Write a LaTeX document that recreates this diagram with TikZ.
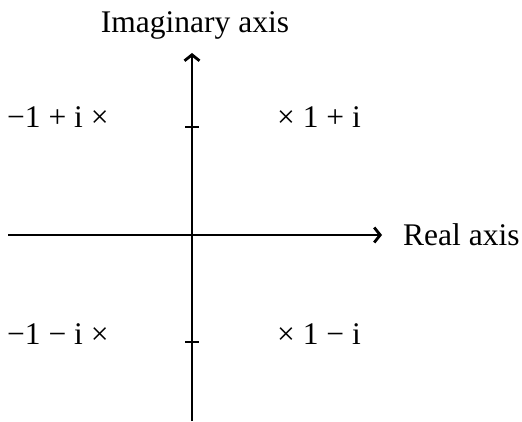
\documentclass[tikz,border=0pt]{standalone}
\usepackage{fontspec}
\setmainfont{Liberation Serif}
\usetikzlibrary{arrows.meta}
\begin{document}
\begin{tikzpicture}[x=1pt, y=1pt,
  axis/.style={line width=2.8pt, -{Straight Barb[length=6pt, width=15pt, line width=2.8pt]}},
  tickmark/.style={line width=2.8pt},
  lbl/.style={font=\fontsize{31.5}{37}\selectfont, inner sep=0pt}]
\useasboundingbox (0,0) rectangle (522,421);

% Axes
\coordinate (O) at (192,186);
\coordinate (re start) at (8,186);
\coordinate (re end) at (382,186);
\coordinate (im start) at (192,0);
\coordinate (im end) at (192,368);
\draw[axis] (re start) -- (re end);
\draw[axis] (im start) -- (im end);
\node[lbl, anchor=west] (re label) at (403,186) {Real axis};
\node[lbl, anchor=base] (im label) at (195,388) {Imaginary axis};

% Ticks
\coordinate (tick up) at (192,294);
\coordinate (tick down) at (192,79);
\draw[tickmark] ([xshift=-7pt]tick up) -- ([xshift=7pt]tick up);
\draw[tickmark] ([xshift=-7pt]tick down) -- ([xshift=7pt]tick down);

% Points
\node[lbl, anchor=base west] (pt ul) at (7,293) {−1 + i ×};
\node[lbl, anchor=base west] (pt ur) at (277,293) {× 1 + i};
\node[lbl, anchor=base west] (pt ll) at (7,77) {−1 − i ×};
\node[lbl, anchor=base west] (pt lr) at (277,77) {× 1 − i};

\end{tikzpicture}
\end{document}
